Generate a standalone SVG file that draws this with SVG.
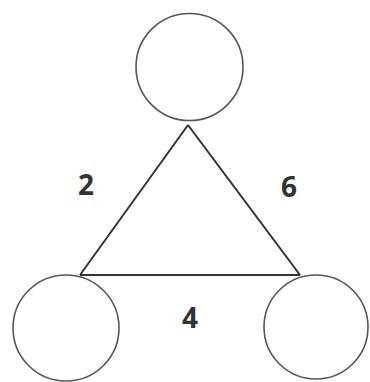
<svg xmlns="http://www.w3.org/2000/svg" width="370" height="382" viewBox="0 0 370 382">
<style>
.node{fill:none;stroke:#555;stroke-width:1.6}
.edge{fill:none;stroke:#333;stroke-width:2;stroke-linejoin:miter}
.lbl{font-family:"Open Sans","DejaVu Sans",sans-serif;font-weight:bold;font-size:28px;fill:#333;text-anchor:middle}
</style>
<rect width="370" height="382" fill="#fff"/>
<g id="connectors">
<line class="edge" x1="188" y1="125" x2="80" y2="275"/>
<line class="edge" x1="188" y1="125" x2="300" y2="275"/>
<line class="edge" x1="80" y1="275" x2="300" y2="275"/>
</g>
<g id="node-top"><circle class="node" cx="189.5" cy="67" r="53.5"/></g>
<g id="node-left"><circle class="node" cx="66" cy="328" r="53"/></g>
<g id="node-right"><circle class="node" cx="316" cy="327" r="52"/></g>
<g id="labels">
<text class="lbl" x="86" y="195">2</text>
<text class="lbl" x="289" y="197">6</text>
<text class="lbl" x="190" y="328">4</text>
</g>
</svg>
